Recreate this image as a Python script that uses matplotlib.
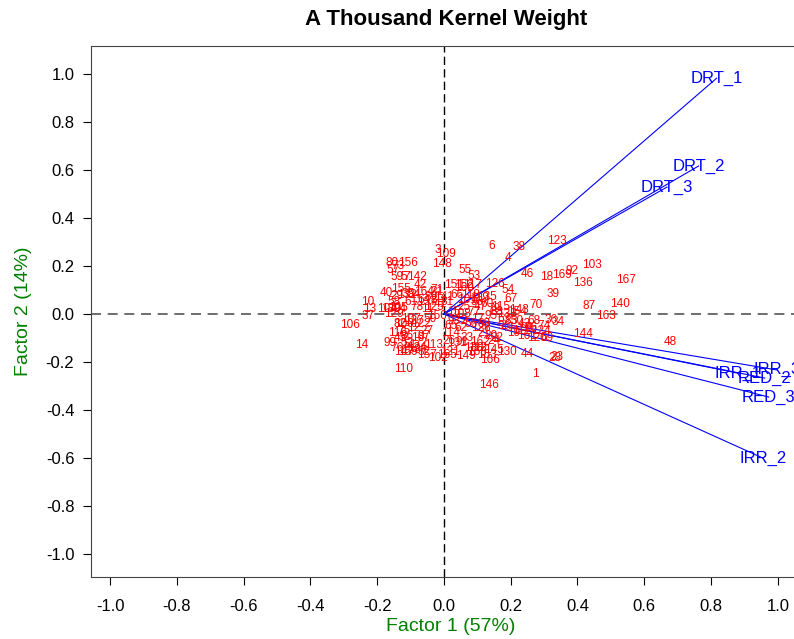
import matplotlib
matplotlib.use("Agg")
import matplotlib.pyplot as plt

plt.rcParams['font.family'] = ['Liberation Sans', 'DejaVu Sans']

# genotype scores (Factor 1, Factor 2)
geno = ['1', '3', '4', '6', '7', '10', '13', '14', '18', '23', '24', '26', '28', '29',
        '34', '35', '36', '37', '38', '39', '40', '44', '46', '48', '51', '53', '54',
        '55', '57', '59', '67', '69', '70', '73', '80', '87', '90', '91', '92', '102',
        '103', '104', '105', '106', '109', '110', '112', '117', '119', '120', '121',
        '123', '126', '130', '136', '140', '142', '143', '144', '146', '148', '149',
        '151', '152', '155', '156', '159', '162', '163', '166', '167', '169',
        '2', '5', '8', '9', '11', '12', '15', '16', '17', '19', '20', '21', '22', '25',
        '27', '30', '31', '32', '33', '41', '42', '43', '45', '47', '49', '50', '52',
        '56', '58', '60', '61', '62', '63', '64', '65', '66', '68', '71', '72', '74',
        '75', '76', '77', '78', '79', '81', '82', '83', '84', '85', '86', '88', '89',
        '93', '94', '95', '96', '97', '98', '99', '100', '101', '107', '108', '111',
        '113', '114', '115', '116', '118', '122', '124', '125', '127', '128', '129',
        '131', '132', '133', '134', '135', '137', '138', '139', '141', '145', '147',
        '150', '153', '154', '157', '158', '160', '161', '164', '165', '168']
f1 = [0.275, -0.018, 0.192, 0.144, -0.111, -0.228, -0.222, -0.246, 0.308, 0.338, 0.150,
      0.015, 0.332, -0.141, 0.341, -0.108, 0.320, -0.228, 0.225, 0.326, -0.171, 0.251,
      0.251, 0.677, -0.102, 0.090, 0.192, 0.063, -0.153, -0.141, 0.201, 0.308, 0.275,
      -0.138, -0.156, 0.434, 0.249, 0.054, 0.383, -0.018, 0.443, -0.171, -0.138, -0.281,
      0.006, -0.120, 0.102, 0.087, 0.108, 0.278, 0.018, 0.338, 0.153, 0.189, 0.416,
      0.527, -0.081, 0.225, 0.416, 0.135, -0.006, 0.066, 0.030, 0.060, -0.129, -0.108,
      -0.108, 0.108, 0.485, 0.138, 0.545, 0.353,
      0.06, -0.12, -0.03, 0.17, -0.05, -0.09, 0.03, -0.08, 0.10, 0.21, 0.14, 0.12, 0.16,
      0.06, -0.05, 0.22, -0.02, -0.06, 0.07, -0.01, -0.07, 0.24, -0.13, 0.11, 0.19,
      -0.04, -0.11, 0.08, -0.15, 0.13, -0.10, 0.05, 0.18, -0.06, 0.02, 0.04, 0.27,
      -0.02, -0.07, 0.30, -0.12, -0.14, 0.09, -0.08, 0.15, 0.01, -0.13, 0.16, -0.09,
      0.20, -0.11, 0.12, -0.04, 0.03, -0.13, 0.14, 0.26, -0.06, 0.10, -0.16, -0.12,
      0.07, -0.10, 0.05, 0.23, -0.03, 0.02, 0.17, -0.14, 0.08, -0.07, 0.29, -0.03,
      -0.09, 0.11, -0.15, 0.04, -0.11, 0.19, -0.08, 0.13, -0.05, 0.09, -0.16, 0.00,
      0.15, -0.12, -0.02, 0.13, 0.22, -0.05, -0.10, 0.06, 0.25, -0.06, 0.01, 0.10]
f2 = [-0.250, 0.267, 0.233, 0.283, 0.154, 0.050, 0.021, -0.129, 0.154, -0.179, -0.113,
      -0.113, -0.183, 0.075, -0.033, 0.083, -0.025, -0.008, 0.279, 0.083, 0.088, -0.167,
      0.167, -0.117, -0.129, 0.158, 0.100, 0.183, 0.183, 0.154, 0.063, -0.100, 0.038,
      0.200, 0.213, 0.033, -0.058, -0.117, 0.179, -0.183, 0.204, 0.021, 0.025, -0.046,
      0.250, -0.229, -0.142, 0.121, 0.067, -0.100, -0.158, 0.304, 0.125, -0.158, 0.129,
      0.042, 0.154, 0.017, -0.083, -0.296, 0.208, -0.175, 0.121, 0.121, 0.104, 0.213,
      -0.158, -0.117, -0.008, -0.192, 0.142, 0.163,
      -0.03, 0.155, 0.06, -0.05, 0.02, -0.06, 0.01, -0.10, -0.02, -0.08, -0.09, -0.08,
      -0.10, 0.03, -0.07, -0.03, 0.09, -0.16, -0.10, 0.04, 0.12, -0.04, -0.10, 0.03,
      -0.06, -0.02, -0.12, -0.04, 0.05, 0.04, 0.05, -0.06, -0.02, 0.06, -0.05, 0.08,
      -0.03, 0.10, -0.12, -0.05, -0.07, -0.14, 0.01, 0.03, 0.02, 0.05, -0.04, 0.01,
      0.08, -0.03, -0.09, -0.04, 0.07, -0.03, 0.02, -0.01, -0.06, -0.09, 0.05, -0.12,
      -0.04, 0.06, -0.02, 0.00, -0.07, -0.13, -0.08, 0.03, -0.08, 0.08, -0.04, -0.07,
      0.03, -0.03, -0.06, 0.00, -0.12, 0.08, 0.00, -0.14, 0.07, 0.05, -0.14, 0.02,
      0.07, -0.15, -0.16, -0.01, -0.17, 0.01, -0.17, -0.15, 0.11, -0.09, 0.09, -0.17,
      -0.16]

# environment vectors
env = ['DRT_1', 'DRT_2', 'DRT_3', 'IRR_1', 'IRR_3', 'RED_2', 'RED_3', 'IRR_2']
env_f1 = [0.817, 0.763, 0.668, 0.880, 0.997, 0.961, 0.973, 0.955]
env_f2 = [0.983, 0.617, 0.529, -0.246, -0.233, -0.267, -0.346, -0.600]

fig = plt.figure(figsize=(7.94, 6.39), dpi=100)
ax = fig.add_axes([91 / 794, 62 / 639, 0.907, 531 / 639])

ax.axhline(0, color='#555555', lw=1.2, ls=(0, (6, 4)), zorder=1)
ax.axvline(0, color='black', lw=1.0, ls=(0, (6, 3)), zorder=1)

for name, x, y in zip(env, env_f1, env_f2):
    ax.plot([0, x], [0, y], color='blue', lw=0.8, zorder=2)

for lab, x, y in zip(geno, f1, f2):
    ax.text(x, y, lab, color='red', fontsize=8.5, ha='center', va='center', zorder=3)

for name, x, y in zip(env, env_f1, env_f2):
    ax.text(x, y, name, color='blue', fontsize=12, ha='center', va='center', zorder=4)

ax.set_xlim(-1.057, 1.10)
ax.set_ylim(-1.096, 1.117)
ticks = [-1.0, -0.8, -0.6, -0.4, -0.2, 0.0, 0.2, 0.4, 0.6, 0.8, 1.0]
ax.set_xticks(ticks)
ax.set_yticks(ticks)
ax.set_xticklabels(['%.1f' % t for t in ticks])
ax.set_yticklabels(['%.1f' % t for t in ticks])
ax.tick_params(labelsize=12, length=6, direction='out')
ax.tick_params(axis='x', pad=10)
ax.tick_params(axis='y', pad=6)
for s in ax.spines.values():
    s.set_color('#444444')
ax.spines['right'].set_visible(False)

ax.set_xlabel('Factor 1 (57%)', color='green', fontsize=14, labelpad=3)
ax.set_ylabel('Factor 2 (14%)', color='green', fontsize=14, labelpad=10)
fig.text(446 / 794, 1 - 20 / 639, 'A Thousand Kernel Weight', fontsize=16,
         fontweight='bold', ha='center', va='center')

fig.savefig('out.png', dpi=100)
